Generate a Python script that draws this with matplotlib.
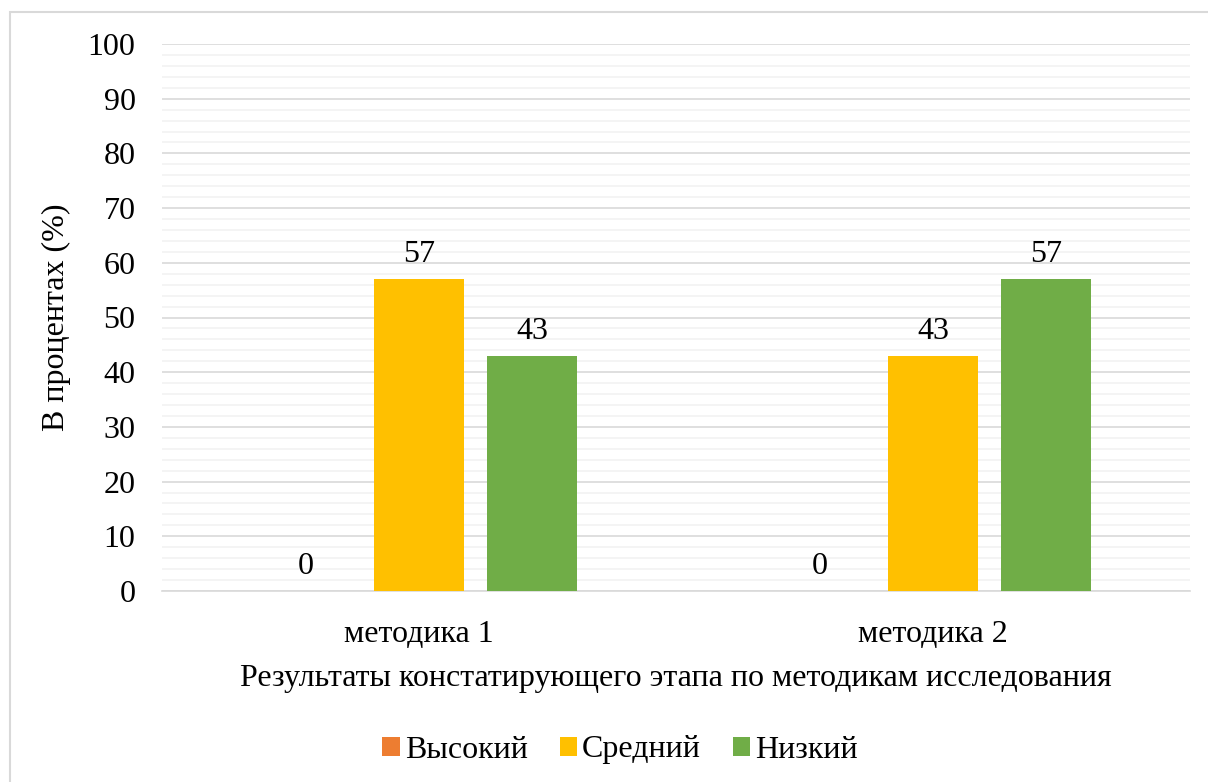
import matplotlib.pyplot as plt
from matplotlib.patches import Rectangle
import numpy as np

plt.rcParams['font.family'] = ['Liberation Serif', 'DejaVu Serif']

categories = ['методика 1', 'методика 2']
series_names = ['Высокий', 'Средний', 'Низкий']
series_values = [
    [0, 0],    # Высокий
    [57, 43],  # Средний
    [43, 57],  # Низкий
]
colors = ['#ED7D31', '#FFC000', '#70AD47']

fs = 23

fig = plt.figure(figsize=(12.08, 7.82), dpi=100)
ax = fig.add_axes([162 / 1208, 1 - 591 / 782, (1190 - 162) / 1208, (591 - 44) / 782])

# outer chart border
fig.patches.append(Rectangle((10 / 1208, -0.01), 1.05, 1 - 12 / 782 + 0.01,
                             transform=fig.transFigure, fill=False,
                             edgecolor='#d9d9d9', linewidth=1.5))

x = np.arange(len(categories))
width = 0.175
step = 0.22
for i, (name, vals, c) in enumerate(zip(series_names, series_values, colors)):
    pos = x + (i - 1) * step
    bars = ax.bar(pos, vals, width, color=c, label=name, zorder=3)
    for b, v in zip(bars, vals):
        ax.text(b.get_x() + b.get_width() / 2, v + 1.8, str(v),
                ha='center', va='bottom', fontsize=fs, color='#000000')

ax.set_xlim(-0.5, 1.5)
ax.set_ylim(0, 100)
ax.set_yticks(np.arange(0, 101, 10))
ax.set_yticks(np.arange(0, 101, 2), minor=True)
ax.grid(axis='y', which='major', color='#d9d9d9', linewidth=1.2, zorder=0)
ax.grid(axis='y', which='minor', color='#f2f2f2', linewidth=1.2, zorder=0)
ax.set_axisbelow(True)
for s in ['top', 'right', 'left']:
    ax.spines[s].set_visible(False)
ax.spines['bottom'].set_color('#d9d9d9')
ax.spines['bottom'].set_linewidth(1.2)
ax.tick_params(axis='both', which='both', length=0, labelsize=fs, colors='#000000')
ax.tick_params(axis='y', pad=19)
ax.tick_params(axis='x', pad=21)
ax.set_xticks(x)
ax.set_xticklabels(categories)

ax.set_ylabel('В процентах (%)', fontsize=fs, labelpad=12)
ax.set_xlabel('Результаты констатирующего этапа по методикам исследования',
              fontsize=fs, labelpad=11)

fig.legend(loc='center', bbox_to_anchor=(620 / 1208, 1 - 750 / 782), ncol=3,
           frameon=False, fontsize=fs, handlelength=0.55, handleheight=0.55,
           handletextpad=0.15, columnspacing=1.0)

fig.savefig('out.png', dpi=100, facecolor='white')
